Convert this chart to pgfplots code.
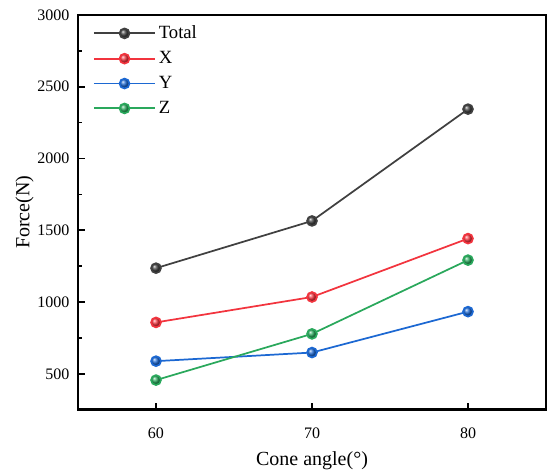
\documentclass[border=0pt]{standalone}
\usepackage{pgfplots}
\pgfplotsset{compat=1.18}
\usepackage{fontspec}
\setmainfont{Liberation Serif}
\definecolor{cTot}{RGB}{64,64,64}
\definecolor{cX}{RGB}{242,52,62}
\definecolor{cY}{RGB}{28,104,210}
\definecolor{cZ}{RGB}{42,168,92}
\begin{document}
\begin{tikzpicture}
\path[use as bounding box] (-58.5pt,-48pt) rectangle (354pt,307.25pt);
\begin{axis}[
  at={(0,0)}, anchor=south west,
  scale only axis, width=351pt, height=296pt,
  xmin=55, xmax=85, ymin=250, ymax=3000,
  xtick={60,70,80}, ytick={500,1000,1500,2000,2500,3000},
  minor ytick={750,1250,1750,2250,2750},
  xtick pos=bottom, ytick pos=left,
  axis line style={line width=1.9pt},
  every tick/.style={black, line width=1.2pt},
  major tick length=5pt, minor tick length=3pt,
  tick align=inside,
  /pgf/number format/assume math mode=true,
  /pgf/number format/1000 sep={},
  tick label style={font=\fontsize{12}{12}\selectfont},
  xticklabel style={yshift=-10pt},
  yticklabel style={xshift=-3pt},
  xlabel={Cone angle(°)}, ylabel={Force(N)},
  label style={font=\fontsize{15}{15}\selectfont},
  xlabel style={at={(axis description cs:0.5,-0.129)}, anchor=center},
  ylabel style={at={(axis description cs:-0.114,0.5)}, anchor=center},
  legend style={at={(axis description cs:0,1)}, anchor=north west, xshift=8pt, yshift=-4pt,
    draw=none, fill=none, font=\fontsize{14}{14}\selectfont, row sep=4pt},
  legend cell align=left,
  legend image code/.code={%
    \draw[#1, line width=1.4pt, mark=none] (0pt,0pt) -- (46pt,0pt);
    \path[#1] plot coordinates {(23pt,0pt)};},
  every axis plot/.append style={line width=1.3pt, mark=ball, mark size=3.7pt},
]
\addplot[color=cTot, mark options={ball color=cTot}] coordinates {(60,1236) (70,1565) (80,2344)};
\addlegendentry{Total}
\addplot[color=cX, mark options={ball color=cX}] coordinates {(60,858) (70,1035) (80,1442)};
\addlegendentry{X}
\addplot[color=cY, mark options={ball color=cY}] coordinates {(60,588) (70,648) (80,933)};
\addlegendentry{Y}
\addplot[color=cZ, mark options={ball color=cZ}] coordinates {(60,456) (70,778) (80,1292)};
\addlegendentry{Z}
\end{axis}
\end{tikzpicture}
\end{document}
